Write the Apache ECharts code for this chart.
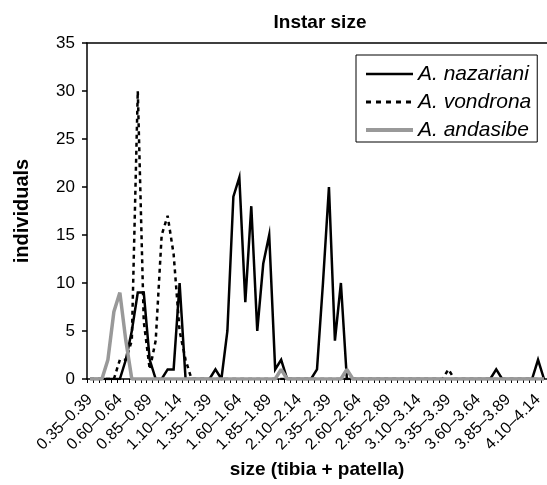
<!DOCTYPE html>
<html>
<head>
<meta charset="utf-8">
<script src="https://cdn.jsdelivr.net/npm/echarts@6/dist/echarts.min.js"></script>
<style>
  html, body { margin: 0; padding: 0; background: #fff; }
  #main { width: 547px; height: 485px; }
</style>
</head>
<body>
<div id="main"></div>
<script>
// size classes (tibia + patella), 0.05 steps
var sizes = [
  '0.35–0.39', '0.40–0.44', '0.45–0.49', '0.50–0.54', '0.55–0.59',
  '0.60–0.64', '0.65–0.69', '0.70–0.74', '0.75–0.79', '0.80–0.84',
  '0.85–0.89', '0.90–0.94', '0.95–0.99', '1.00–1.04', '1.05–1.09',
  '1.10–1.14', '1.15–1.19', '1.20–1.24', '1.25–1.29', '1.30–1.34',
  '1.35–1.39', '1.40–1.44', '1.45–1.49', '1.50–1.54', '1.55–1.59',
  '1.60–1.64', '1.65–1.69', '1.70–1.74', '1.75–1.79', '1.80–1.84',
  '1.85–1.89', '1.90–1.94', '1.95–1.99', '2.00–2.04', '2.05–2.09',
  '2.10–2.14', '2.15–2.19', '2.20–2.24', '2.25–2.29', '2.30–2.34',
  '2.35–2.39', '2.40–2.44', '2.45–2.49', '2.50–2.54', '2.55–2.59',
  '2.60–2.64', '2.65–2.69', '2.70–2.74', '2.75–2.79', '2.80–2.84',
  '2.85–2.89', '2.90–2.94', '2.95–2.99', '3.00–3.04', '3.05–3.09',
  '3.10–3.14', '3.15–3.19', '3.20–3.24', '3.25–3.29', '3.30–3.34',
  '3.35–3.39', '3.40–3.44', '3.45–3.49', '3.50–3.54', '3.55–3.59',
  '3.60–3.64', '3.65–3.69', '3.70–3.74', '3.75–3.79', '3.80–3.84',
  '3.85–3.89', '3.90–3.94', '3.95–3.99', '4.00–4.04', '4.05–4.09',
  '4.10–4.14', '4.15–4.19'
];

var nazariani = [
  0, 0, 0, 0, 0, 0, 2, 5, 9, 9,
  2, 0, 0, 1, 1, 10, 0, 0, 0, 0,
  0, 1, 0, 5, 19, 21, 8, 18, 5, 12,
  15, 1, 2, 0, 0, 0, 0, 0, 1, 10,
  20, 4, 10, 0, 0, 0, 0, 0, 0, 0,
  0, 0, 0, 0, 0, 0, 0, 0, 0, 0,
  0, 0, 0, 0, 0, 0, 0, 0, 1, 0,
  0, 0, 0, 0, 0, 2, 0
];

var vondrona = [
  0, 0, 0, 0, 0, 2, 2, 4, 30, 6,
  1, 4, 15, 17, 13, 5, 2, 0, 0, 0,
  0, 0, 0, 0, 0, 0, 0, 0, 0, 0,
  0, 0, 0, 0, 0, 0, 0, 0, 0, 0,
  0, 0, 0, 0, 0, 0, 0, 0, 0, 0,
  0, 0, 0, 0, 0, 0, 0, 0, 0, 0,
  1, 0, 0, 0, 0, 0, 0, 0, 0, 0,
  0, 0, 0, 0, 0, 0, 0
];

var andasibe = [
  0, 0, 0, 2, 7, 9, 4, 0, 0, 0,
  0, 0, 0, 0, 0, 0, 0, 0, 0, 0,
  0, 0, 0, 0, 0, 0, 0, 0, 0, 0,
  0, 0, 1, 0, 0, 0, 0, 0, 0, 0,
  0, 0, 0, 1, 0, 0, 0, 0, 0, 0,
  0, 0, 0, 0, 0, 0, 0, 0, 0, 0,
  0, 0, 0, 0, 0, 0, 0, 0, 0, 0,
  0, 0, 0, 0, 0, 0, 0
];

var font = 'Liberation Sans, Arial, Helvetica, sans-serif';

var chart = echarts.init(document.getElementById('main'), null, { renderer: 'canvas' });

var option = {
  animation: false,
  backgroundColor: '#fff',
  textStyle: { fontFamily: font, color: '#000' },
  title: {
    text: 'Instar size',
    left: 315,
    top: 8,
    textAlign: 'center',
    textStyle: { fontFamily: font, fontSize: 19, fontWeight: 'bold', color: '#000' }
  },
  legend: {
    orient: 'vertical',
    left: 356,
    top: 55,
    padding: [8, 6, 1, 8],
    itemGap: 6,
    itemWidth: 47,
    itemHeight: 14,
    borderColor: '#000',
    borderWidth: 1,
    itemStyle: { color: 'transparent', borderColor: 'transparent', borderWidth: 0 },
    textStyle: { fontFamily: font, fontSize: 21, lineHeight: 22, fontStyle: 'italic', color: '#000' },
    data: [
      { name: 'A. nazariani', lineStyle: { width: 2.5 } },
      { name: 'A. vondrona', lineStyle: { width: 3, type: [5, 5] } },
      { name: 'A. andasibe', lineStyle: { width: 4 } }
    ]
  },
  grid: {
    left: 87,
    right: 0,
    top: 43,
    bottom: 106,
    containLabel: false
  },
  xAxis: [{
    type: 'category',
    data: sizes,
    boundaryGap: true,
    name: 'size (tibia + patella)',
    nameLocation: 'middle',
    nameGap: 76,
    nameTextStyle: { fontFamily: font, fontSize: 19, fontWeight: 'bold', color: '#000' },
    axisLine: { lineStyle: { color: '#000', width: 1.5 } },
    axisTick: { show: true, interval: 0, length: 4, lineStyle: { color: '#000', width: 1 } },
    axisLabel: {
      interval: 4,
      rotate: 45,
      fontFamily: font,
      fontSize: 16,
      color: '#000',
      margin: 18
    },
    splitLine: { show: false }
  }, {
    type: 'category',
    data: sizes,
    position: 'top',
    axisLine: { lineStyle: { color: '#000', width: 1.5 } },
    axisTick: { show: false },
    axisLabel: { show: false },
    splitLine: { show: false }
  }],
  yAxis: {
    type: 'value',
    min: 0,
    max: 35,
    interval: 5,
    name: 'individuals',
    nameLocation: 'middle',
    nameGap: 55,
    nameRotate: 90,
    nameTextStyle: { fontFamily: font, fontSize: 20, fontWeight: 'bold', color: '#000' },
    axisLine: { show: true, lineStyle: { color: '#000', width: 1.5 } },
    axisTick: { show: true, length: 5, lineStyle: { color: '#000', width: 1.5 } },
    axisLabel: { fontFamily: font, fontSize: 17, color: '#000', margin: 12 },
    splitLine: { show: false }
  },
  series: [{
    name: 'A. nazariani',
    type: 'line',
    data: nazariani,
    symbol: 'none',
    showSymbol: false,
    lineStyle: { color: '#000', width: 2.5, join: 'miter' },
    itemStyle: { color: '#000' }
  }, {
    name: 'A. vondrona',
    type: 'line',
    data: vondrona,
    symbol: 'none',
    showSymbol: false,
    lineStyle: { color: '#000', width: 2.5, type: [4, 4] },
    itemStyle: { color: '#000' }
  }, {
    name: 'A. andasibe',
    type: 'line',
    data: andasibe,
    symbol: 'none',
    showSymbol: false,
    lineStyle: { color: '#999999', width: 3.5 },
    itemStyle: { color: '#999999' }
  }]
};

chart.setOption(option);
</script>
</body>
</html>
